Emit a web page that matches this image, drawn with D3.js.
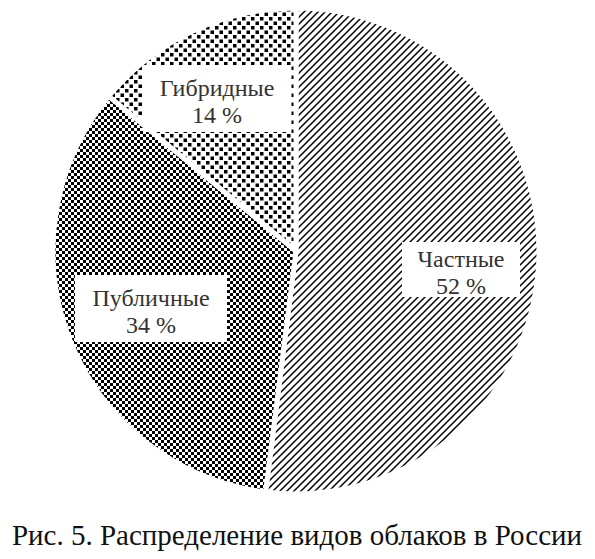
<!DOCTYPE html>
<html><head><meta charset="utf-8">
<script src="https://cdn.jsdelivr.net/npm/d3@7"></script>
<style>body{margin:0;background:#fff}svg{display:block}text{font-family:'Liberation Serif','Times New Roman',serif}</style>
</head><body>
<script>
const categories = ["Частные", "Публичные", "Гибридные"];
const values = [52, 34, 14];
const caption = "Рис. 5. Распределение видов облаков в России";

const W = 595, H = 559, cx = 296, cy = 251, R = 243;
const svg = d3.select("body").append("svg").attr("width", W).attr("height", H);
const defs = svg.append("defs");

const p1 = defs.append("pattern").attr("id","hatch").attr("patternUnits","userSpaceOnUse").attr("width",7).attr("height",7);
p1.append("rect").attr("width",7).attr("height",7).attr("fill","#fff");
p1.append("path").attr("d","M-1,8 L8,-1 M-4,4 L4,-4 M3,11 L11,3").attr("stroke","#000").attr("stroke-width",1.5);
const p2 = defs.append("pattern").attr("id","check").attr("patternUnits","userSpaceOnUse").attr("width",6).attr("height",6);
p2.append("rect").attr("width",6).attr("height",6).attr("fill","#fff");
p2.append("rect").attr("width",3).attr("height",3).attr("fill","#000");
p2.append("rect").attr("x",3).attr("y",3).attr("width",3).attr("height",3).attr("fill","#000");
const p3 = defs.append("pattern").attr("id","dots").attr("patternUnits","userSpaceOnUse").attr("width",9).attr("height",9);
p3.append("rect").attr("width",9).attr("height",9).attr("fill","#fff");
p3.append("rect").attr("width",3.5).attr("height",3.5).attr("fill","#000");
p3.append("rect").attr("x",4.5).attr("y",4.5).attr("width",3.5).attr("height",3.5).attr("fill","#000");

const fills = ["url(#hatch)", "url(#check)", "url(#dots)"];
const pie = d3.pie().sort(null).value(d => d)(values);
const arc = d3.arc().innerRadius(0).outerRadius(R);
const g = svg.append("g").attr("transform", `translate(${cx},${cy})`);
g.selectAll("path").data(pie).join("path")
  .attr("d", arc).attr("fill", (d,i) => fills[i])
  .attr("stroke", "#fff").attr("stroke-width", 5).attr("stroke-linejoin","round");

const boxes = [
  {x: 402, y: 242, w: 118, h: 55},
  {x: 75, y: 275, w: 152, h: 67},
  {x: 143, y: 65, w: 148, h: 67}
];
categories.forEach((c, i) => {
  const b = boxes[i];
  svg.append("rect").attr("x", b.x).attr("y", b.y).attr("width", b.w).attr("height", b.h).attr("fill", "#fff");
  const tx = b.x + b.w / 2, ty = b.y + b.h / 2;
  svg.append("text").attr("x", tx).attr("y", ty - 3).attr("text-anchor","middle")
    .attr("font-size",24).attr("fill","#333").text(c);
  svg.append("text").attr("x", tx).attr("y", ty + 24).attr("text-anchor","middle")
    .attr("font-size",24).attr("fill","#333").text(values[i] + " %");
});

svg.append("text").attr("x", 297).attr("y", 545).attr("text-anchor","middle")
  .attr("font-size",29).attr("fill","#111").text(caption);
</script>
</body></html>
